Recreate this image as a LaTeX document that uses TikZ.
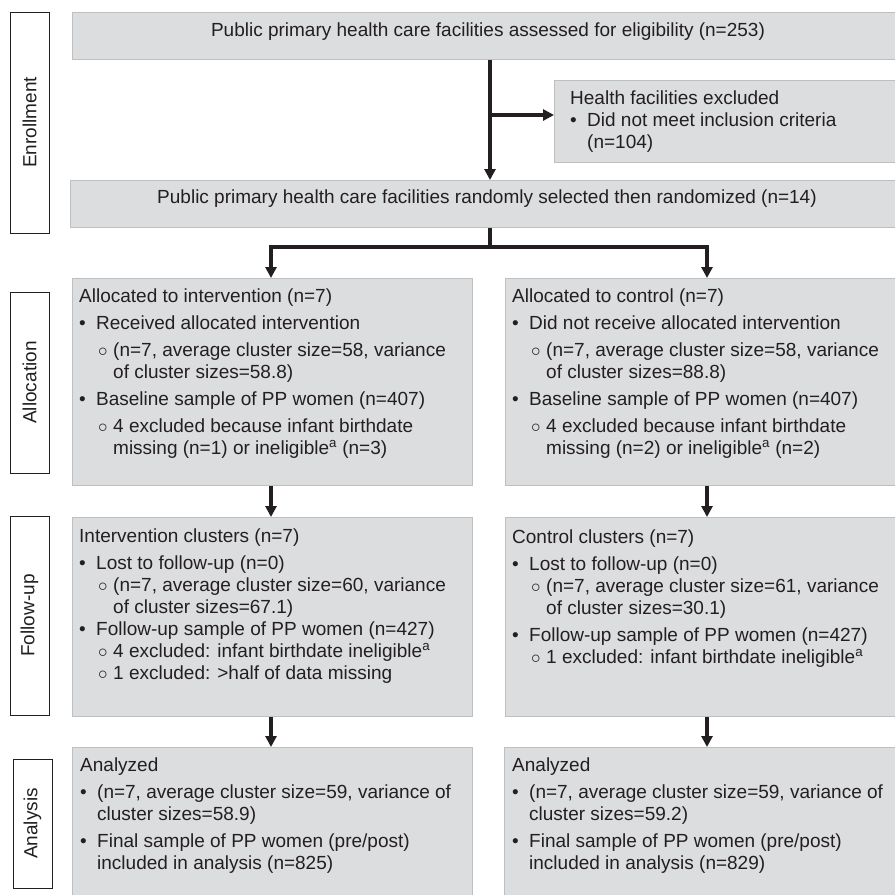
\documentclass[tikz,border=0pt]{standalone}
\usepackage{fix-cm}
\usepackage{fontspec}
\setmainfont{Liberation Sans}
\usepackage{xcolor}
\usetikzlibrary{positioning,calc,arrows.meta}

\definecolor{boxfill}{HTML}{DCDDDF}
\definecolor{boxline}{HTML}{BEBFC1}
\definecolor{ink}{HTML}{231F20}

% list lines
\newcommand{\bl}[1]{\makebox[17pt][l]{\textbullet}#1}
\newcommand{\bc}[1]{\hspace*{17pt}#1}
\newcommand{\sbl}[1]{\hspace*{19pt}\makebox[15pt][l]{$\circ$}#1}
\newcommand{\sbc}[1]{\hspace*{34pt}#1}

\tikzset{
  stage/.style={draw=ink, line width=0.9pt, fill=white, rotate=90, minimum height=39pt,
    inner sep=0pt, text=ink, font=\fontsize{19}{22}\selectfont},
  box/.style={draw=boxline, line width=1pt, fill=boxfill, anchor=north west, inner sep=0pt},
  txt/.style={inner sep=0pt, text=ink, font=\fontsize{19}{22}\selectfont},
  flow/.style={draw=ink, line width=3.2pt, -{Triangle[length=11pt,width=11pt]}},
}

\begin{document}
\begin{tikzpicture}[x=1pt,y=-1pt]
    \useasboundingbox (0,0) rectangle (895,895);

    % Stage labels
    \node[stage, minimum width=221pt] (enrol) at (29.5,122.5) {Enrollment};
    \node[stage, minimum width=181pt] (alloc) at (29.5,382.5) {Allocation};
    \node[stage, minimum width=199pt] (follow) at (29.5,615.5) {Follow-up};
    \node[stage, minimum width=129pt] (anal) at (32.5,823.5) {Analysis};

    % Enrollment
    \node[box, minimum width=823pt, minimum height=47pt] (elig) at (72,12) {};
    \node[box, minimum width=341pt, minimum height=82pt] (excl) at (554,80) {};
    \node[box, minimum width=825pt, minimum height=47pt] (rand) at (70,180) {};
    \node[txt, anchor=base] (eligtxt) at (488,36)
        {Public primary health care facilities assessed for eligibility (n=253)};
    \node[txt, anchor=base west] (excltxt) at (570,104) {\parbox[t]{320pt}{\raggedright
        Health facilities excluded\\
        \bl{Did not meet inclusion criteria}\\
        \bc{(n=104)}}};
    \node[txt, anchor=base] (randtxt) at (487,203)
        {Public primary health care facilities randomly selected then randomized (n=14)};

    % Allocation
    \node[box, minimum width=400pt, minimum height=207pt] (alloc1) at (72,278) {};
    \node[box, minimum width=390pt, minimum height=207pt] (alloc2) at (505,278) {};
    \node[txt, anchor=base west] (alloc1txt) at (79,302) {\parbox[t]{390pt}{\raggedright
        Allocated to intervention (n=7)\\[5pt]
        \bl{Received allocated intervention}\\[5pt]
        \sbl{(n=7, average cluster size=58, variance}\\
        \sbc{of cluster sizes=58.8)}\\[5pt]
        \bl{Baseline sample of PP women (n=407)}\\[5pt]
        \sbl{4 excluded because infant birthdate}\\
        \sbc{missing (n=1) or ineligible\textsuperscript{a} (n=3)}}};
    \node[txt, anchor=base west] (alloc2txt) at (512,302) {\parbox[t]{380pt}{\raggedright
        Allocated to control (n=7)\\[5pt]
        \bl{Did not receive allocated intervention}\\[5pt]
        \sbl{(n=7, average cluster size=58, variance}\\
        \sbc{of cluster sizes=88.8)}\\[5pt]
        \bl{Baseline sample of PP women (n=407)}\\[5pt]
        \sbl{4 excluded because infant birthdate}\\
        \sbc{missing (n=2) or ineligible\textsuperscript{a} (n=2)}}};

    % Follow-up
    \node[box, minimum width=400pt, minimum height=199pt] (follow1) at (72,517) {};
    \node[box, minimum width=390pt, minimum height=199pt] (follow2) at (505,517) {};
    \node[txt, anchor=base west] (follow1txt) at (79,542) {\parbox[t]{390pt}{\raggedright
        Intervention clusters (n=7)\\[5pt]
        \bl{Lost to follow-up (n=0)}\\
        \sbl{(n=7, average cluster size=60, variance}\\
        \sbc{of cluster sizes=67.1)}\\
        \bl{Follow-up sample of PP women (n=427)}\\
        \sbl{4 excluded: infant birthdate ineligible\textsuperscript{a}}\\
        \sbl{1 excluded: >half of data missing}}};
    \node[txt, anchor=base west] (follow2txt) at (512,543) {\parbox[t]{380pt}{\raggedright
        Control clusters (n=7)\\[5pt]
        \bl{Lost to follow-up (n=0)}\\
        \sbl{(n=7, average cluster size=61, variance}\\
        \sbc{of cluster sizes=30.1)}\\[5pt]
        \bl{Follow-up sample of PP women (n=427)}\\
        \sbl{1 excluded: infant birthdate ineligible\textsuperscript{a}}}};

    % Analysis
    \node[box, minimum width=400pt, minimum height=148pt] (anal1) at (72,747) {};
    \node[box, minimum width=391pt, minimum height=148pt] (anal2) at (504,747) {};
    \node[txt, anchor=base west] (anal1txt) at (80,771) {\parbox[t]{390pt}{\raggedright
        Analyzed\\[5pt]
        \bl{(n=7, average cluster size=59, variance of}\\
        \bc{cluster sizes=58.9)}\\[5pt]
        \bl{Final sample of PP women (pre/post)}\\
        \bc{included in analysis (n=825)}}};
    \node[txt, anchor=base west] (anal2txt) at (512,771) {\parbox[t]{380pt}{\raggedright
        Analyzed\\[5pt]
        \bl{(n=7, average cluster size=59, variance of}\\
        \bc{cluster sizes=59.2)}\\[5pt]
        \bl{Final sample of PP women (pre/post)}\\
        \bc{included in analysis (n=829)}}};

    % Connectors
    \coordinate (trunk) at (490,0);
    \coordinate (branch) at (490,115);
    \coordinate (fork) at (490,247);
    \coordinate (colL) at (271,0);
    \coordinate (colR) at (707,0);
    \draw[flow] (elig.south -| trunk) -- (rand.north -| trunk);
    \draw[flow] (branch) -- (branch -| excl.west);
    \draw[flow] (rand.south -| fork) -- (fork) -| (alloc1.north -| colL);
    \draw[flow] (fork) -| (alloc2.north -| colR);
    \draw[flow] (alloc1.south -| colL) -- (follow1.north -| colL);
    \draw[flow] (alloc2.south -| colR) -- (follow2.north -| colR);
    \draw[flow] (follow1.south -| colL) -- (anal1.north -| colL);
    \draw[flow] (follow2.south -| colR) -- (anal2.north -| colR);
\end{tikzpicture}
\end{document}
